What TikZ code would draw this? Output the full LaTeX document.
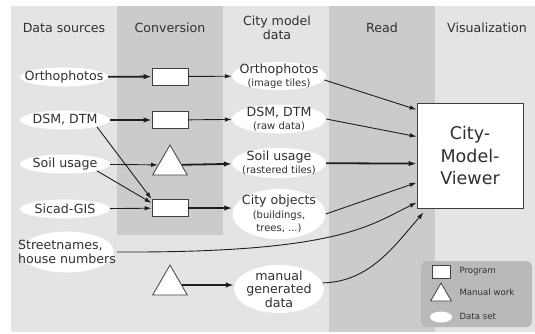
\documentclass[tikz,border=0pt]{standalone}
\usepackage{fontspec}
\setmainfont{DejaVu Sans}
\usetikzlibrary{arrows.meta,shapes.geometric,positioning}

\definecolor{bglight}{HTML}{E4E4E4}
\definecolor{bandgray}{HTML}{CBCBCB}
\definecolor{legendgray}{HTML}{B9B9B9}
\definecolor{ink}{HTML}{1E1E1E}
\definecolor{txt}{HTML}{303030}
\definecolor{boxline}{HTML}{404040}

\newcommand{\mainsize}{\fontsize{12.6bp}{13.5bp}\selectfont}
\newcommand{\smallsize}{\fontsize{10bp}{12bp}\selectfont}
\newcommand{\legsize}{\fontsize{8.6bp}{10bp}\selectfont}
\newcommand{\bigsize}{\fontsize{17.5bp}{22.5bp}\selectfont}

\begin{document}
\begin{tikzpicture}[->,x=1bp,y=-1bp,>={Latex[length=7bp,width=4.5bp]},
    every node/.style={text=txt,font=\mainsize},
    slim/.style={draw=ink,line width=0.9bp},
    heavy/.style={draw=ink,line width=1.8bp,>={Latex[length=8bp,width=5.5bp]}},
    prog/.style={rectangle,draw=boxline,fill=white,line width=0.8bp,inner sep=0,
      minimum width=36bp,minimum height=17bp},
    manwork/.style={regular polygon,regular polygon sides=3,draw=boxline,fill=white,
      line width=0.8bp,inner sep=0,minimum size=40bp},
    dataset/.style 2 args={ellipse,fill=white,inner sep=0,
      minimum width=#1,minimum height=#2}]
    \useasboundingbox (0,0) rectangle (535,333);
    % columns
    \fill[bglight] (11,6) rectangle (535,332);
    \fill[bandgray] (117,6) rectangle (223,235);
    \fill[bandgray] (329,6) rectangle (435,332);

    \node (hSrc)  at (64,28)  {Data sources};
    \node (hConv) at (170,28) {Conversion};
    \node[align=center] (hCity) at (277,28) {City model\\data};
    \node (hRead) at (382,28) {Read};
    \node (hVis)  at (487,28) {Visualization};

    % data sources
    \node[dataset={88bp}{19bp},label={center:Orthophotos}] (orthoS) at (64,77) {};
    \node[dataset={90bp}{19bp},label={center:DSM, DTM}]    (dsmS)   at (65,120) {};
    \node[dataset={90bp}{19bp},label={center:Soil usage}]  (soilS)  at (65,164) {};
    \node[dataset={90bp}{19bp},label={center:Sicad-GIS}]   (sicadS) at (65,209) {};
    \node[dataset={94bp}{41bp},label={[align=left]center:{Streetnames,\\house numbers}}] (streetS) at (67,252) {};

    % conversion
    \node[prog]    (box1) at (170,76.5) {};
    \node[prog]    (box2) at (170,120)  {};
    \node[manwork] (tri1) at (170,165)  {};
    \node[prog]    (box3) at (170,208)  {};
    \node[manwork] (tri2) at (170,285)  {};

    % city model data
    \node[dataset={94bp}{28bp},label={[align=center]center:{Orthophotos\\\smallsize (image tiles)}}] (orthoC) at (279,76) {};
    \node[dataset={94bp}{29bp},label={[align=center]center:{DSM, DTM\\\smallsize (raw data)}}] (dsmC) at (279,119) {};
    \node[dataset={94bp}{30bp},label={[align=center]center:{Soil usage\\\smallsize (rastered tiles)}}] (soilC) at (279,163) {};
    \node[dataset={93bp}{50bp},label={[align=center]center:{City objects\\\smallsize (buildings,\\\smallsize trees, ...)}}] (cityC) at (279,214) {};
    \node[dataset={90bp}{48bp},label={[align=center]center:{manual\\generated\\data}}] (manC) at (279,289) {};

    % visualization
    \node[rectangle,draw=boxline,fill=white,line width=0.8bp,minimum width=106bp,
      minimum height=105bp,align=center,font=\bigsize] (viewer) at (470,155.5) {City-\\Model-\\Viewer};
    \coordinate (inOrtho)  at ([yshift=-7bp]viewer.north west);
    \coordinate (inDsm)    at ([yshift=-34bp]viewer.north west);
    \coordinate (inSoil)   at ([yshift=-61bp]viewer.north west);
    \coordinate (inCity)   at ([yshift=-80bp]viewer.north west);
    \coordinate (inStreet) at ([yshift=-100bp]viewer.north west);
    \coordinate (inMan)    at ([xshift=7bp,yshift=-4bp]viewer.south west);

    \path
      (orthoS) edge [heavy] (box1)
      (box1)   edge [slim]  (orthoC)
      (dsmS)   edge [heavy] (box2)
      (box2)   edge [slim]  (dsmC)
      (soilS)  edge [slim]  (tri1)
      (tri1)   edge [heavy] (soilC)
      (sicadS) edge [slim]  (box3)
      (box3.east) edge [heavy] (box3.east -| cityC.west)
      (dsmS.south east)  edge [slim] (box3.north west)
      (soilS.south east) edge [slim] ([yshift=5bp]box3.west)
      (tri2.east) edge [heavy] (tri2.east -| manC.west)
      (orthoC.-5) edge [slim]  (inOrtho)
      (dsmC.east) edge [slim]  (inDsm)
      (soilC)     edge [heavy] (inSoil)
      (cityC.east) edge [slim] (inCity);
    \draw[slim] ([xshift=3bp]streetS.east) .. controls (340,253) and (370,225) .. (inStreet);
    \draw[slim] (manC.8) .. controls (370,282) and (395,245) .. (inMan);

    % legend
    \fill[legendgray,rounded corners=6bp] (421,261) rectangle (532,327);
    \node[prog,minimum width=18bp,minimum height=13bp] (legProg) at (441,271.5) {};
    \node[manwork,minimum size=24bp] (legMan) at (441,295) {};
    \node[dataset={22bp}{11bp}] (legData) at (441,317) {};
    \node[anchor=west,font=\legsize] (legProgT) at (456,271) {Program};
    \node[anchor=west,font=\legsize] (legManT)  at (456,292) {Manual work};
    \node[anchor=west,font=\legsize] (legDataT) at (456,316) {Data set};
  \end{tikzpicture}
\end{document}
